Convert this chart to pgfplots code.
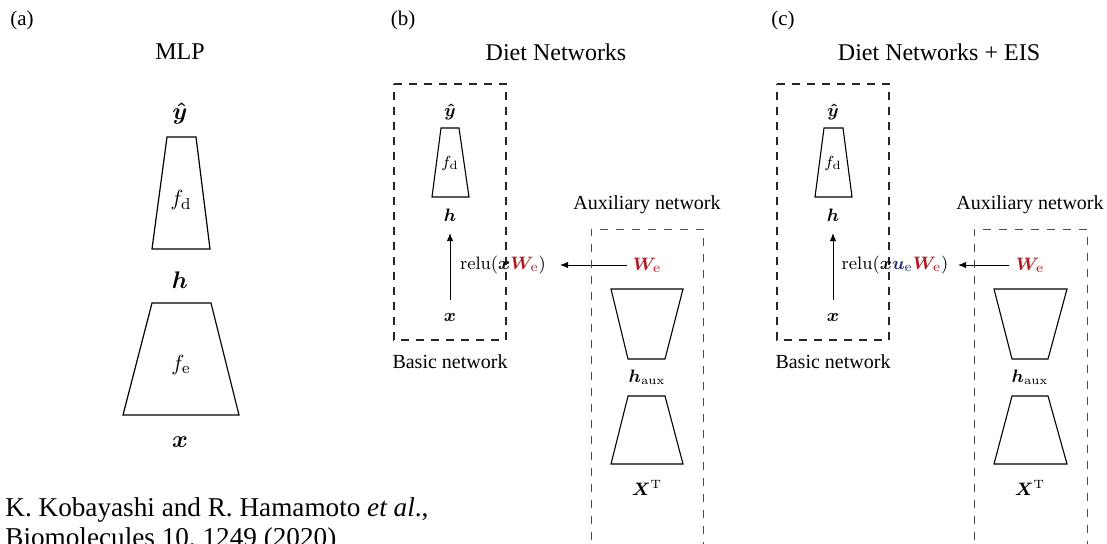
\documentclass[border=0pt]{standalone}
\usepackage[no-math]{fontspec}
\setmainfont{Liberation Serif}
\usepackage{amsmath}
\usepackage{bm}
\usepackage{pgfplots}
\pgfplotsset{compat=1.18}
\usetikzlibrary{arrows.meta}
\definecolor{wred}{RGB}{178,24,32}
\definecolor{ublue}{RGB}{30,45,115}
\begin{document}
\begin{tikzpicture}
\begin{axis}[
  width=553.5pt, height=271.5pt, scale only axis,
  xmin=0, xmax=1107, ymin=0, ymax=543, y dir=reverse,
  enlargelimits=false, hide axis, clip=false,
]
% ---------- (a) MLP ----------
\addplot[black, line width=0.6pt] coordinates {(167,137) (196,137) (210,249) (152,249)} -- cycle;
\addplot[black, line width=0.6pt] coordinates {(152,303) (211,303) (239,415) (123,415)} -- cycle;
% ---------- (b) Diet Networks ----------
\addplot[black!85, line width=0.8pt, dash pattern=on 4pt off 3.5pt] coordinates {(394,84) (506,84) (506,340) (394,340)} -- cycle;
\addplot[black, line width=0.55pt] coordinates {(441,128) (459,128) (469,197) (432,197)} -- cycle;
\addplot[black, line width=0.5pt, -{Latex[length=4pt,width=3.2pt]}] coordinates {(450,300) (450,233)};
\addplot[black, line width=0.5pt, -{Latex[length=4pt,width=3.2pt]}] coordinates {(627,265) (560,265)};
\addplot[black!70, line width=0.45pt, dash pattern=on 4pt off 4pt] coordinates {(591,620) (591,229) (703,229) (703,620)};
\addplot[black, line width=0.55pt] coordinates {(611,289) (683,289) (665,359) (628,359)} -- cycle;
\addplot[black, line width=0.55pt] coordinates {(628,396) (665,396) (683,464) (611,464)} -- cycle;
% ---------- (c) Diet Networks + EIS ----------
\addplot[black!85, line width=0.8pt, dash pattern=on 4pt off 3.5pt] coordinates {(777,84) (889,84) (889,340) (777,340)} -- cycle;
\addplot[black, line width=0.55pt] coordinates {(824,128) (843,128) (852,197) (815,197)} -- cycle;
\addplot[black, line width=0.5pt, -{Latex[length=4pt,width=3.2pt]}] coordinates {(833,300) (833,233)};
\addplot[black, line width=0.5pt, -{Latex[length=4pt,width=3.2pt]}] coordinates {(1009,265) (958,265)};
\addplot[black!70, line width=0.45pt, dash pattern=on 4pt off 4pt] coordinates {(974,620) (974,229) (1087,229) (1087,620)};
\addplot[black, line width=0.55pt] coordinates {(994,289) (1067,289) (1048,359) (1012,359)} -- cycle;
\addplot[black, line width=0.55pt] coordinates {(1012,396) (1048,396) (1067,464) (994,464)} -- cycle;

% ---------- text ----------
\begin{scope}[every node/.style={inner sep=0pt, font=\fontsize{10.5}{12}\selectfont}]
\node at (axis cs:22,20) {(a)};
\node at (axis cs:403,20) {(b)};
\node at (axis cs:783,20) {(c)};
\node[font=\fontsize{12}{14}\selectfont] at (axis cs:180,52) {MLP};
\node[font=\fontsize{12}{14}\selectfont] at (axis cs:556,52) {Diet Networks};
\node[font=\fontsize{12}{14}\selectfont] at (axis cs:939,52) {Diet Networks + EIS};
% MLP labels
\node[font=\fontsize{12.5}{14}\selectfont] at (axis cs:180,113) {$\bm{\hat{y}}$};
\node[font=\fontsize{11}{13}\selectfont] at (axis cs:181,200) {$f_{\mathrm{d}}$};
\node[font=\fontsize{12.5}{14}\selectfont] at (axis cs:180,280) {$\bm{h}$};
\node[font=\fontsize{11}{13}\selectfont] at (axis cs:181,365) {$f_{\mathrm{e}}$};
\node[font=\fontsize{12.5}{14}\selectfont] at (axis cs:180,442) {$\bm{x}$};
% panel b
\node[font=\fontsize{9}{11}\selectfont] at (axis cs:450,112) {$\bm{\hat{y}}$};
\node[font=\fontsize{8}{10}\selectfont] at (axis cs:450,163) {$f_{\mathrm{d}}$};
\node[font=\fontsize{9}{11}\selectfont] at (axis cs:450,215) {$\bm{h}$};
\node[font=\fontsize{9}{11}\selectfont] at (axis cs:450,317) {$\bm{x}$};
\node[font=\fontsize{9.5}{11}\selectfont] at (axis cs:503,265) {$\mathrm{relu}(\bm{x}\textcolor{wred}{\bm{W}_{\mathrm{e}}})$};
\node[font=\fontsize{9.5}{11}\selectfont] at (axis cs:647,265) {$\textcolor{wred}{\bm{W}_{\mathrm{e}}}$};
\node[font=\fontsize{9}{11}\selectfont] at (axis cs:647,377) {$\bm{h}_{\mathrm{aux}}$};
\node[font=\fontsize{9}{11}\selectfont] at (axis cs:647,488) {$\bm{X}^{\mathrm{T}}$};
\node[font=\fontsize{10}{12}\selectfont] at (axis cs:450,362) {Basic network};
\node[font=\fontsize{10}{12}\selectfont] at (axis cs:647,205) {Auxiliary network};
% panel c
\node[font=\fontsize{9}{11}\selectfont] at (axis cs:833,112) {$\bm{\hat{y}}$};
\node[font=\fontsize{8}{10}\selectfont] at (axis cs:833,163) {$f_{\mathrm{d}}$};
\node[font=\fontsize{9}{11}\selectfont] at (axis cs:833,215) {$\bm{h}$};
\node[font=\fontsize{9}{11}\selectfont] at (axis cs:833,317) {$\bm{x}$};
\node[font=\fontsize{9.5}{11}\selectfont] at (axis cs:895,265) {$\mathrm{relu}(\bm{x}\textcolor{ublue}{\bm{u}_{\mathrm{e}}}\textcolor{wred}{\bm{W}_{\mathrm{e}}})$};
\node[font=\fontsize{9.5}{11}\selectfont] at (axis cs:1030,265) {$\textcolor{wred}{\bm{W}_{\mathrm{e}}}$};
\node[font=\fontsize{9}{11}\selectfont] at (axis cs:1030,377) {$\bm{h}_{\mathrm{aux}}$};
\node[font=\fontsize{9}{11}\selectfont] at (axis cs:1030,488) {$\bm{X}^{\mathrm{T}}$};
\node[font=\fontsize{10}{12}\selectfont] at (axis cs:833,362) {Basic network};
\node[font=\fontsize{10}{12}\selectfont] at (axis cs:1030,205) {Auxiliary network};
% citation
\node[anchor=base west, font=\fontsize{13.6}{15}\selectfont] at (axis cs:5,516) {K. Kobayashi and R. Hamamoto \textit{et al}.,};
\node[anchor=base west, font=\fontsize{13.6}{15}\selectfont] at (axis cs:5,546) {Biomolecules 10, 1249 (2020)};
\end{scope}
\end{axis}
\pgfresetboundingbox
\path[use as bounding box] (0,0) rectangle (553.5pt,271.5pt);
\end{tikzpicture}
\end{document}
